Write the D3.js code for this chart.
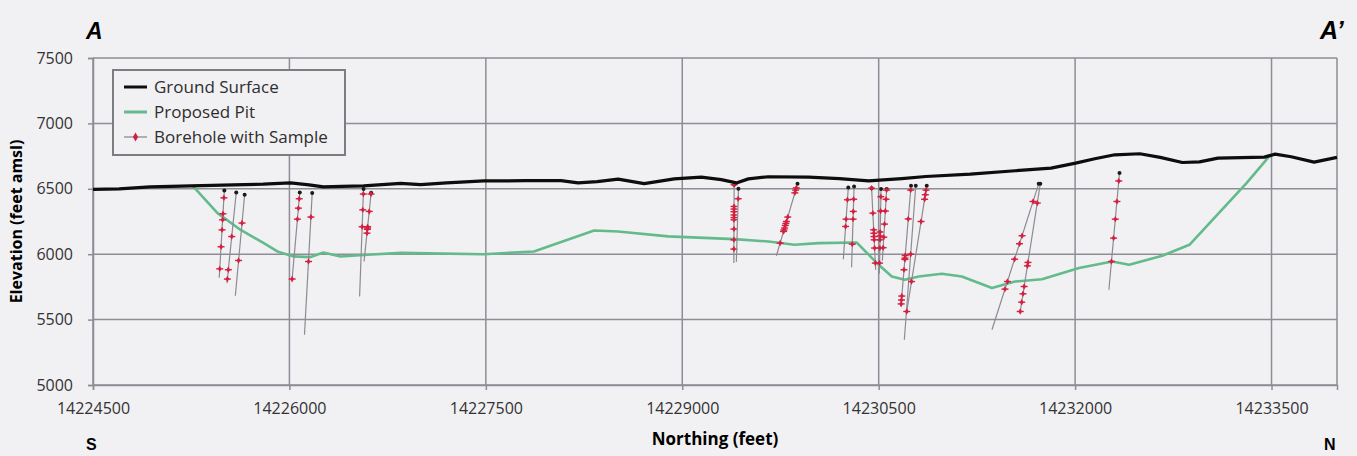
<!DOCTYPE html>
<html>
<head>
<meta charset="utf-8">
<script src="https://cdn.jsdelivr.net/npm/d3@7"></script>
<style>
  html, body { margin: 0; padding: 0; background: #f1f0f3; }
  svg { display: block; }
  .tick text { font-family: "Open Sans", sans-serif; fill: #333; }
</style>
</head>
<body>
<svg id="chart" width="1357" height="456"></svg>
<script>
// Ground surface profile: [northing, elevation]
const groundSurface = [
  [14224500, 6495], [14224700, 6500], [14224936, 6515], [14225250, 6522],
  [14225571, 6530], [14225800, 6535], [14226008, 6545], [14226150, 6530],
  [14226260, 6515], [14226400, 6518], [14226566, 6522], [14226850, 6542],
  [14227002, 6532], [14227200, 6545], [14227485, 6560], [14227800, 6562],
  [14228074, 6563], [14228204, 6545], [14228350, 6555], [14228510, 6574],
  [14228709, 6540], [14228939, 6576], [14229145, 6589], [14229298, 6570],
  [14229413, 6545], [14229505, 6576], [14229658, 6592], [14229964, 6590],
  [14230200, 6578], [14230423, 6560], [14230676, 6578], [14230860, 6594],
  [14231200, 6612], [14231541, 6638], [14231816, 6658], [14232004, 6696],
  [14232150, 6730], [14232303, 6760], [14232494, 6768], [14232650, 6740],
  [14232819, 6701], [14232950, 6706], [14233091, 6735], [14233445, 6742],
  [14233527, 6765], [14233650, 6745], [14233825, 6704], [14234000, 6740]
];

// Proposed pit bottom: [northing, elevation]
const proposedPit = [
  [14225265, 6518], [14225449, 6316], [14225625, 6187], [14225801, 6087],
  [14225908, 6021], [14226031, 5983], [14226161, 5978], [14226260, 6013],
  [14226390, 5983], [14226597, 5996], [14226850, 6010], [14227485, 6000],
  [14227867, 6021], [14228327, 6181], [14228510, 6174], [14228893, 6136],
  [14229398, 6115], [14229658, 6097], [14229857, 6072], [14230041, 6085],
  [14230331, 6090], [14230500, 5919], [14230600, 5830], [14230699, 5804],
  [14230806, 5830], [14230982, 5850], [14231135, 5830], [14231365, 5741],
  [14231541, 5791], [14231747, 5809], [14232030, 5894], [14232283, 5944],
  [14232413, 5919], [14232666, 5988], [14232873, 6072], [14233309, 6544],
  [14233492, 6760]
];

// Boreholes: collar and bottom [northing, elevation], sample elevations
const boreholeCollars = [
  [14225503, 6487], [14225594, 6472], [14225658, 6454], [14226079, 6472],
  [14226174, 6467], [14226566, 6498], [14226624, 6470], [14229396, 6531],
  [14229429, 6500], [14229880, 6538], [14230268, 6510], [14230312, 6518],
  [14230446, 6505], [14230518, 6498], [14230561, 6498], [14230747, 6523],
  [14230783, 6523], [14230867, 6523], [14231722, 6538], [14231734, 6538],
  [14232339, 6620]
];
const boreholeBottoms = [
  [14225464, 5820], [14225523, 5779], [14225587, 5682], [14226019, 5790],
  [14226115, 5384], [14226536, 5677], [14226570, 5944], [14229394, 5932],
  [14229413, 5940], [14229719, 5988], [14230230, 5962], [14230293, 5901],
  [14230477, 5881], [14230505, 5850], [14230528, 5950], [14230670, 5600],
  [14230696, 5346], [14230714, 5560], [14231365, 5422], [14231581, 5562],
  [14232258, 5728]
];
const boreholeSamples = [
  [6431, 6309, 6263, 6186, 6057, 5888],
  [6135, 5881, 5810],
  [6238, 5952],
  [6424, 6352, 6268, 5810],
  [6284, 5944],
  [6460, 6339, 6210],
  [6460, 6327, 6210, 6200, 6190, 6161],
  [6531, 6365, 6345, 6325, 6300, 6280, 6263, 6192, 6110, 6039],
  [6424],
  [6507, 6490, 6469, 6284, 6250, 6235, 6220, 6200, 6185, 6174, 6085],
  [6416, 6268, 6212],
  [6420, 6327, 6268, 6077],
  [6505, 6314, 6186, 6160, 6135, 6110, 6047, 5932],
  [6440, 6330, 6170, 6140, 6110, 6047, 5932],
  [6490, 6420, 6330, 6230, 6130, 6050],
  [6490, 6270, 5990, 5970, 5960, 5881, 5680, 5650, 5620],
  [6000],
  [6490, 6455, 6420, 6250, 5791, 5562],
  [6403, 6141, 6080, 5962, 5791, 5733],
  [6391, 5937, 5911, 5753, 5697, 5633, 5562],
  [6560, 6403, 6268, 6123, 5944]
];

const xTicks = [14224500, 14226000, 14227500, 14229000, 14230500, 14232000, 14233500];
const yTicks = [5000, 5500, 6000, 6500, 7000, 7500];
const legendLabels = ["Ground Surface", "Proposed Pit", "Borehole with Sample"];

const colours = {
  ground: "#0d0d0d",
  pit: "#63bb8c",
  hole: "#8d8b92",
  sample: "#d42040",
  grid: "#8e8d95"
};

const margins = { left: 93, right: 20, top: 58, bottom: 71 };
const svg = d3.select("#chart");
const width = +svg.attr("width") - margins.left - margins.right;
const height = +svg.attr("height") - margins.top - margins.bottom;

const x = d3.scaleLinear().domain([14224500, 14234000]).range([0, width]);
const y = d3.scaleLinear().domain([5000, 7500]).range([height, 0]);

const g = svg.append("g").attr("transform", `translate(${margins.left},${margins.top})`);

// gridlines
g.append("g")
  .selectAll("line.vgrid")
  .data(xTicks)
  .join("line")
  .attr("class", "vgrid")
  .attr("x1", (d) => x(d)).attr("x2", (d) => x(d))
  .attr("y1", 0).attr("y2", height)
  .style("stroke", colours.grid).style("stroke-width", 1.5);

g.append("g")
  .selectAll("line.hgrid")
  .data(yTicks)
  .join("line")
  .attr("class", "hgrid")
  .attr("x1", 0).attr("x2", width)
  .attr("y1", (d) => y(d)).attr("y2", (d) => y(d))
  .style("stroke", colours.grid).style("stroke-width", 1.5);

// right border
g.append("line")
  .attr("x1", width).attr("x2", width).attr("y1", 0).attr("y2", height)
  .style("stroke", colours.grid).style("stroke-width", 1.5);

// axes
const xAxis = d3.axisBottom(x).tickValues(xTicks).tickFormat(d3.format("d")).tickSize(5).tickPadding(13);
const yAxis = d3.axisLeft(y).tickValues(yTicks).tickFormat(d3.format("d")).tickSize(5).tickPadding(15);

const xAxisGroup = g.append("g").attr("transform", `translate(0,${height})`).call(xAxis);
const yAxisGroup = g.append("g").call(yAxis);
[xAxisGroup, yAxisGroup].forEach((ag) => {
  ag.select(".domain").style("stroke", colours.grid).style("stroke-width", 1.5);
  ag.selectAll(".tick line").style("stroke", colours.grid).style("stroke-width", 1.5);
  ag.selectAll(".tick text").style("font-size", "16px");
});

const line = d3.line().x((d) => x(d[0])).y((d) => y(d[1]));

// proposed pit
g.append("path")
  .datum(proposedPit)
  .attr("d", line)
  .style("fill", "none")
  .style("stroke", colours.pit)
  .style("stroke-width", 2.6)
  .style("stroke-linejoin", "round");

// boreholes
const holes = boreholeCollars.map((c, i) => {
  const b = boreholeBottoms[i];
  const along = (e) => c[0] + ((b[0] - c[0]) * (c[1] - e)) / (c[1] - b[1]);
  return {
    trace: [c, b],
    samples: boreholeSamples[i].map((e) => [along(e), e])
  };
});

const holeGroups = g.selectAll("g.hole").data(holes).join("g").attr("class", "hole");

holeGroups.append("path")
  .attr("d", (d) => line(d.trace))
  .style("stroke", colours.hole)
  .style("stroke-width", 1.2)
  .style("fill", "none");

holeGroups.append("circle")
  .attr("cx", (d) => x(d.trace[0][0]))
  .attr("cy", (d) => y(d.trace[0][1]))
  .attr("r", 2)
  .style("fill", "#1a1a1a");

const diamond = d3.symbol().type(d3.symbolDiamond).size(12);

holeGroups.selectAll("g.sample")
  .data((d) => d.samples)
  .join((enter) => {
    const s = enter.append("g").attr("class", "sample");
    s.append("line").attr("x1", -3.5).attr("x2", 3.5)
      .style("stroke", colours.sample).style("stroke-width", 1.4);
    s.append("path").attr("d", diamond).style("fill", colours.sample);
    return s;
  })
  .attr("transform", (d) => `translate(${x(d[0])},${y(d[1])})`);

// ground surface
g.append("path")
  .datum(groundSurface)
  .attr("d", line)
  .style("fill", "none")
  .style("stroke", colours.ground)
  .style("stroke-width", 3.2)
  .style("stroke-linejoin", "round");

// legend
const legend = g.append("g").attr("transform", "translate(20,12)");
legend.append("rect")
  .attr("width", 232).attr("height", 85)
  .style("fill", "#f1f0f3")
  .style("stroke", "#7d7c83").style("stroke-width", 2);

const legendRows = legend.selectAll("g.row").data(legendLabels).join("g")
  .attr("class", "row")
  .attr("transform", (d, i) => `translate(0,${17 + i * 25})`);

legendRows.append("line")
  .attr("x1", 11).attr("x2", 34)
  .style("stroke", (d, i) => [colours.ground, colours.pit, colours.hole][i])
  .style("stroke-width", (d, i) => [3, 3, 1.3][i]);

legendRows.filter((d, i) => i === 2).append("path")
  .attr("d", d3.symbol().type(d3.symbolDiamond).size(24))
  .attr("transform", "translate(22.5,0)")
  .style("fill", colours.sample);

legendRows.append("text")
  .attr("x", 41).attr("dy", "0.35em")
  .style("font-family", "Open Sans, sans-serif")
  .style("font-size", "17px")
  .style("fill", "#2e2e2e")
  .text((d) => d);

// axis titles
svg.append("text")
  .attr("transform", `translate(22,${margins.top + height / 2}) rotate(-90)`)
  .attr("text-anchor", "middle")
  .style("font-family", "Open Sans, sans-serif")
  .style("font-weight", "bold")
  .style("font-size", "16px")
  .text("Elevation (feet amsl)");

svg.append("text")
  .attr("x", margins.left + width / 2).attr("y", 445)
  .attr("text-anchor", "middle")
  .style("font-family", "Open Sans, sans-serif")
  .style("font-weight", "bold")
  .style("font-size", "17px")
  .text("Northing (feet)");

// section end labels
const ends = [
  { t: "A", x: 86, y: 39, s: 23 },
  { t: "A\u2019", x: 1320, y: 39, s: 25 },
  { t: "S", x: 86, y: 450, s: 16 },
  { t: "N", x: 1324, y: 450, s: 16 }
];
svg.selectAll("text.end").data(ends).join("text")
  .attr("class", "end")
  .attr("x", (d) => d.x).attr("y", (d) => d.y)
  .style("font-family", "Liberation Sans, Arial, sans-serif")
  .style("font-weight", "bold")
  .style("font-style", (d) => (d.t.startsWith("A") ? "italic" : "normal"))
  .style("font-size", (d) => `${d.s}px`)
  .text((d) => d.t);
</script>
</body>
</html>
